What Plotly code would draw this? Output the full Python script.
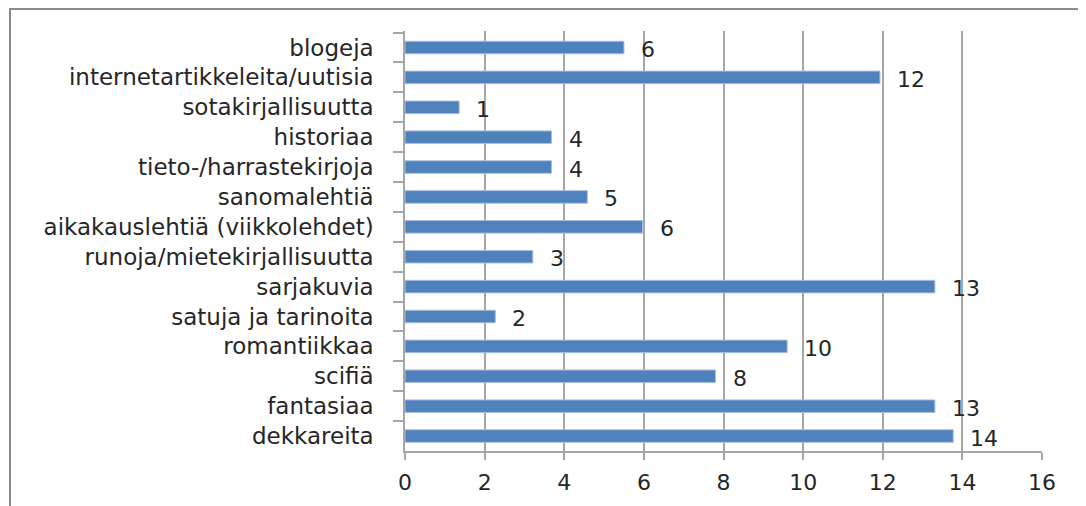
import plotly.graph_objects as go

# Categories, top to bottom as shown
categories = [
    "blogeja",
    "internetartikkeleita/uutisia",
    "sotakirjallisuutta",
    "historiaa",
    "tieto-/harrastekirjoja",
    "sanomalehtiä",
    "aikakauslehtiä (viikkolehdet)",
    "runoja/mietekirjallisuutta",
    "sarjakuvia",
    "satuja ja tarinoita",
    "romantiikkaa",
    "scifiä",
    "fantasiaa",
    "dekkareita",
]
# Bar lengths
bar_values = [5.5, 11.93, 1.36, 3.68, 3.68, 4.58, 5.97, 3.21, 13.31, 2.27, 9.6, 7.8, 13.31, 13.77]
# Data labels as printed next to the bars
bar_labels = ["6", "12", "1", "4", "4", "5", "6", "3", "13", "2", "10", "8", "13", "14"]
x_ticks = [0, 2, 4, 6, 8, 10, 12, 14, 16]

FONT = "DejaVu Sans"
TEXT_COLOR = "#262626"
GRID = "#a6a6a6"

fig = go.Figure()
fig.add_trace(go.Bar(
    x=bar_values,
    y=categories,
    orientation="h",
    marker=dict(color="#4f81bd", line=dict(color="#a7c0e0", width=1)),
    width=0.42,
    hoverinfo="skip",
))

# data labels to the right of each bar
for cat, val, lab in zip(categories, bar_values, bar_labels):
    fig.add_annotation(
        x=val, y=cat, text=lab, showarrow=False,
        xanchor="left", xshift=15, yshift=-2,
        font=dict(family=FONT, size=22, color=TEXT_COLOR),
    )

# page body has an 8px margin, so margins are shifted by 8
fig.update_layout(
    width=1086,
    height=506,
    margin=dict(l=397, r=52, t=23, b=63),
    paper_bgcolor="white",
    plot_bgcolor="white",
    showlegend=False,
    font=dict(family=FONT, size=22, color=TEXT_COLOR),
    xaxis=dict(
        range=[0, 16],
        tickvals=x_ticks,
        showgrid=True,
        gridcolor=GRID,
        gridwidth=1.5,
        zeroline=False,
        showline=True,
        linecolor=GRID,
        linewidth=1.5,
        ticks="outside",
        ticklen=7,
        tickcolor=GRID,
        tickwidth=1.5,
        ticklabelstandoff=4,
        tickfont=dict(family=FONT, size=22, color=TEXT_COLOR),
    ),
    yaxis=dict(
        autorange="reversed",
        showgrid=False,
        showline=True,
        linecolor=GRID,
        linewidth=1.5,
        ticks="outside",
        tickson="boundaries",
        ticklen=10,
        tickcolor=GRID,
        tickwidth=1.5,
        ticklabelstandoff=25,
        tickfont=dict(family=FONT, size=23, color=TEXT_COLOR),
    ),
)

# outer chart frame (left and top edges visible)
fig.add_shape(
    type="rect", xref="paper", yref="paper",
    x0=(10 - 405) / 637, x1=(1110 - 405) / 637,
    y0=-(530 - 451) / 420, y1=1 + (31 - 9) / 420,
    line=dict(color="#8c8c8c", width=2),
    layer="below",
)

fig.write_html("out.html")
